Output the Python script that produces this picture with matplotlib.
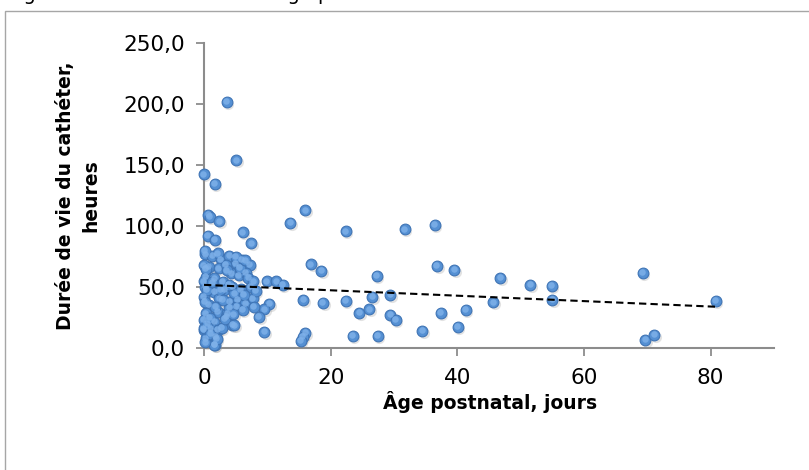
import matplotlib
matplotlib.use("Agg")
import matplotlib.pyplot as plt
import matplotlib.transforms as mtransforms
from matplotlib.patches import Rectangle

# ---- data ----
age_days = [
    3.6, 5.1, 0.0, 1.7, 0.7, 0.9, 2.4, 13.6, 16.0, 0.6, 1.7, 6.1, 7.5, 16.9, 18.5,
    9.9, 11.4, 12.4, 15.7, 18.8, 10.3, 9.5, 8.7, 9.5, 16.0, 15.6, 15.3, 1.7,
    22.4, 31.7, 36.4, 27.3, 36.8, 39.5, 46.8, 51.5, 54.9, 69.3, 80.8, 22.4, 26.6,
    29.4, 24.5, 26.1, 29.4, 30.3, 23.5, 27.4, 34.5, 37.4, 41.3, 40.1, 45.7, 55.0,
    69.7, 71.1,
    0.2, 1.3, 2.7, 4.0, 5.0, 6.0, 7.2, 0.8, 0.0, 2.3, 3.4, 4.3, 5.5, 6.6, 0.3,
    1.6, 3.0, 0.2, 1.6, 3.2, 4.5, 5.8, 7.4, 0.0, 2.4, 4.0, 5.3, 6.5, 7.7, 0.8,
    0.3, 2.2, 3.7, 5.1, 6.1, 7.9, 0.0, 1.6, 3.5, 4.5, 0.0, 1.1, 2.2, 0.3, 1.9,
    0.0, 1.6,
    0.1, 0.3, 0.0, 0.4, 0.1, 0.5, 0.2, 1.0, 2.0, 2.8, 3.3, 4.0, 4.8, 5.7, 6.3,
    7.0, 3.6, 2.6, 1.8, 4.6, 6.5, 7.8, 8.2, 5.0, 2.2, 1.3, 3.9, 4.8, 3.0, 0.9,
]
duration_hours = [
    202.0, 154.0, 142.5, 135.0, 109.5, 108.0, 104.0, 103.0, 113.0, 92.0, 89.0, 95.0, 86.0, 69.0, 63.6,
    55.0, 55.0, 52.0, 39.6, 37.4, 36.3, 32.0, 26.0, 13.6, 12.8, 9.5, 6.2, 2.7,
    96.0, 97.5, 101.3, 59.3, 67.7, 64.4, 57.6, 51.9, 51.0, 62.0, 39.0, 39.0, 42.0,
    43.7, 29.2, 32.0, 27.5, 23.2, 10.3, 10.3, 14.2, 29.2, 31.6, 17.7, 37.7, 39.6,
    6.8, 11.1,
    77.0, 75.7, 73.0, 75.7, 69.7, 72.4, 68.3, 67.0, 68.0, 65.5, 68.3, 61.5, 60.0, 62.0, 58.7,
    57.4, 54.6, 50.5, 46.4, 47.8, 50.5, 48.4, 50.5, 42.3, 41.0, 38.2, 39.6, 36.9, 41.0, 35.5,
    28.7, 30.0, 28.7, 34.1, 31.4, 34.1, 23.2, 21.8, 25.9, 19.1, 15.0, 16.4, 15.0, 8.2, 9.5,
    16.4, 2.7,
    80.0, 65.0, 55.0, 48.0, 38.0, 20.0, 5.0, 12.0, 8.0, 17.0, 24.0, 33.0, 45.0, 66.0, 44.0,
    58.0, 64.0, 48.0, 34.0, 28.0, 72.0, 55.0, 47.0, 75.0, 78.0, 54.0, 52.0, 19.0, 40.0, 25.0,
]
trend_intercept = 52.0
trend_slope = -0.222
x_ticks = [0, 20, 40, 60, 80]
y_ticks = [0, 50, 100, 150, 200, 250]

title_text = "Figure 3 Corrélation entre l'âge postnatal et la durée de vie du cathéter"
x_label = "Âge postnatal, jours"
y_label = "Durée de vie du cathéter,\nheures"

# ---- figure ----
W, H = 809, 470
fig = plt.figure(figsize=(W / 100, H / 100), dpi=100)
fig.patch.set_facecolor("white")
plt.rcParams["font.family"] = ["DejaVu Sans"]

# chart-area frame (extends beyond the right / bottom edge)
fig.patches.append(Rectangle((4.5 / W, -0.5), 2.0, (1 - 11 / H) + 0.5,
                             transform=fig.transFigure, fill=False,
                             edgecolor="#a6a6a6", linewidth=1.0))

# title, mostly cut off by the top edge as in the reference
fig.text(8 / W, 1 + 0.5 / H, title_text, fontsize=14, va="baseline", ha="left",
         color="black")

ax = fig.add_axes([204 / W, 1 - 348.3 / H, 570 / W, 305 / H])
ax.set_xlim(0, 90)
ax.set_ylim(0, 250)
ax.set_facecolor("white")

for s in ("top", "right"):
    ax.spines[s].set_visible(False)
for s in ("left", "bottom"):
    ax.spines[s].set_color("#8c8c8c")
    ax.spines[s].set_linewidth(1.5)

ax.set_xticks(x_ticks)
ax.set_yticks(y_ticks)
ax.set_xticklabels([str(v) for v in x_ticks])
ax.set_yticklabels([f"{v:.1f}".replace(".", ",") for v in y_ticks])
ax.tick_params(axis="both", direction="out", length=5.8, width=1.3,
               color="#8c8c8c", labelsize=15.5, labelcolor="black")
ax.tick_params(axis="y", pad=8)
ax.tick_params(axis="x", pad=8.5)

# markers: shadow, body, highlight
shadow = mtransforms.offset_copy(ax.transData, fig=fig, x=1.5, y=-2.0, units="dots")
ax.scatter(age_days, duration_hours, s=64, color="#7f7f7f", alpha=0.22,
           linewidths=0, transform=shadow, clip_on=False, zorder=2)
ax.scatter(age_days, duration_hours, s=60, facecolor="#5590d3",
           edgecolor="#3f74b5", linewidths=0.8, clip_on=False, zorder=3)
hl = mtransforms.offset_copy(ax.transData, fig=fig, x=-0.6, y=0.6, units="dots")
ax.scatter(age_days, duration_hours, s=22, facecolor="#80b2ea",
           linewidths=0, alpha=0.8, transform=hl, clip_on=False, zorder=4)

# linear trend line
x_end = max(age_days)
ax.plot([0, x_end], [trend_intercept, trend_intercept + trend_slope * x_end],
        color="black", linestyle=(0, (3.5, 2)), linewidth=1.5, zorder=5)

# axis titles
fig.text(490 / W, 1 - 402 / H, x_label, fontsize=13.5, fontweight="bold",
         ha="center", va="center")
fig.text(78 / W, 1 - 196 / H, y_label, fontsize=13.5, fontweight="bold",
         ha="center", va="center", rotation=90, multialignment="center",
         linespacing=1.45)

fig.savefig("out.png", dpi=100)
